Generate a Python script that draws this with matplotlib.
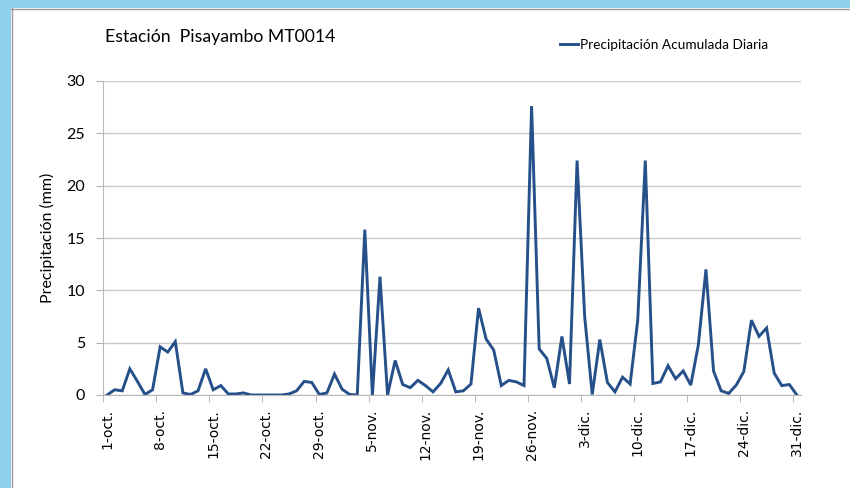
import matplotlib
matplotlib.use("Agg")
import matplotlib.pyplot as plt
from matplotlib.patches import Rectangle

# Daily accumulated precipitation (mm), 1-oct .. 31-dic
oct_mm = [0, 0.5, 0.4, 2.5, 1.3, 0.05, 0.5, 4.6, 4.1, 5.1,
          0.2, 0.05, 0.4, 2.5, 0.5, 0.9, 0.1, 0.1, 0.2, 0,
          0, 0, 0, 0, 0.1, 0.4, 1.3, 1.2, 0.05, 0.2, 2.0]
nov_mm = [0.55, 0.05, 0, 15.8, 0, 11.3, 0, 3.3, 1.0, 0.7,
          1.4, 0.9, 0.3, 1.1, 2.4, 0.3, 0.4, 1.05, 8.3, 5.35,
          4.3, 0.9, 1.4, 1.25, 0.9, 27.6, 4.4, 3.5, 0.7, 5.6]
dic_mm = [1.05, 22.4, 7.5, 0.05, 5.3, 1.2, 0.3, 1.7, 1.05, 7.15,
          22.4, 1.1, 1.25, 2.8, 1.55, 2.3, 0.95, 4.8, 12.0, 2.3,
          0.4, 0.15, 0.95, 2.25, 7.15, 5.6, 6.4, 2.1, 0.9, 1.0, 0]
precip = oct_mm + nov_mm + dic_mm

tick_labels = ["1-oct.", "8-oct.", "15-oct.", "22-oct.", "29-oct.",
               "5-nov.", "12-nov.", "19-nov.", "26-nov.",
               "3-dic.", "10-dic.", "17-dic.", "24-dic.", "31-dic."]
y_ticks = [0, 5, 10, 15, 20, 25, 30]

calibri_like = ["Lato", "DejaVu Sans"]
line_color = "#25508a"
grid_color = "#c9c9c9"

fig = plt.figure(figsize=(8.5, 4.88), dpi=100)
fig.patch.set_facecolor("white")

# light blue frame at top and left, as in the original screenshot
W, H = 850, 488
fig.add_artist(Rectangle((0, 1 - 8 / H), 1, 8 / H, transform=fig.transFigure,
                         facecolor="#8fd0eb", edgecolor="none"))
fig.add_artist(Rectangle((0, 0), 11 / W, 1, transform=fig.transFigure,
                         facecolor="#8fd0eb", edgecolor="none"))
fig.add_artist(plt.Line2D([11 / W, 1], [1 - 8.5 / H, 1 - 8.5 / H],
                          transform=fig.transFigure, color="#9a9a9a", lw=1))
fig.add_artist(plt.Line2D([11.5 / W, 11.5 / W], [0, 1 - 8 / H],
                          transform=fig.transFigure, color="#9a9a9a", lw=1))

ax = fig.add_axes([103.3 / W, 1 - 395 / H, (800.7 - 103.3) / W, (395 - 81) / H])

days = list(range(len(precip)))
ax.plot(days, precip, color=line_color, lw=2.1, solid_joinstyle="miter",
        label="Precipitación Acumulada Diaria")

ax.set_xlim(-0.5, len(precip) - 0.5)
ax.set_ylim(0, 30)

# labels centered on days, tick marks between categories
label_pos = list(range(0, len(precip), 7))
ax.set_xticks(label_pos)
ax.set_xticklabels(tick_labels, rotation=90, fontsize=10, family="DejaVu Sans")
ax.tick_params(axis="x", which="major", length=0, pad=10)
ax.set_xticks([p - 0.5 for p in label_pos], minor=True)
ax.tick_params(axis="x", which="minor", length=5, color="#b0b0b0", direction="out")

ax.set_yticks(y_ticks)
ax.tick_params(axis="y", length=5, color="#b0b0b0", pad=8, labelsize=11.5)
for lbl in ax.get_yticklabels():
    lbl.set_family(calibri_like)

ax.grid(axis="y", color=grid_color, lw=1)
ax.set_axisbelow(True)
for side in ["top", "right"]:
    ax.spines[side].set_visible(False)
ax.spines["left"].set_color("#b8b8b8")
ax.spines["bottom"].set_color("#b8b8b8")

ax.set_ylabel("Precipitación (mm)", fontsize=11.5, family=calibri_like, labelpad=8)

fig.text(105 / W, 1 - 37 / H, "Estación  Pisayambo MT0014", fontsize=12.7,
         family=calibri_like, va="center", ha="left")
leg = ax.legend(loc="center left", bbox_to_anchor=(553 / W, 1 - 45 / H),
                bbox_transform=fig.transFigure, frameon=False,
                prop={"family": calibri_like, "size": 9.8},
                handlelength=1.3, handletextpad=0.2, borderpad=0)

fig.savefig("out.png", dpi=100)
